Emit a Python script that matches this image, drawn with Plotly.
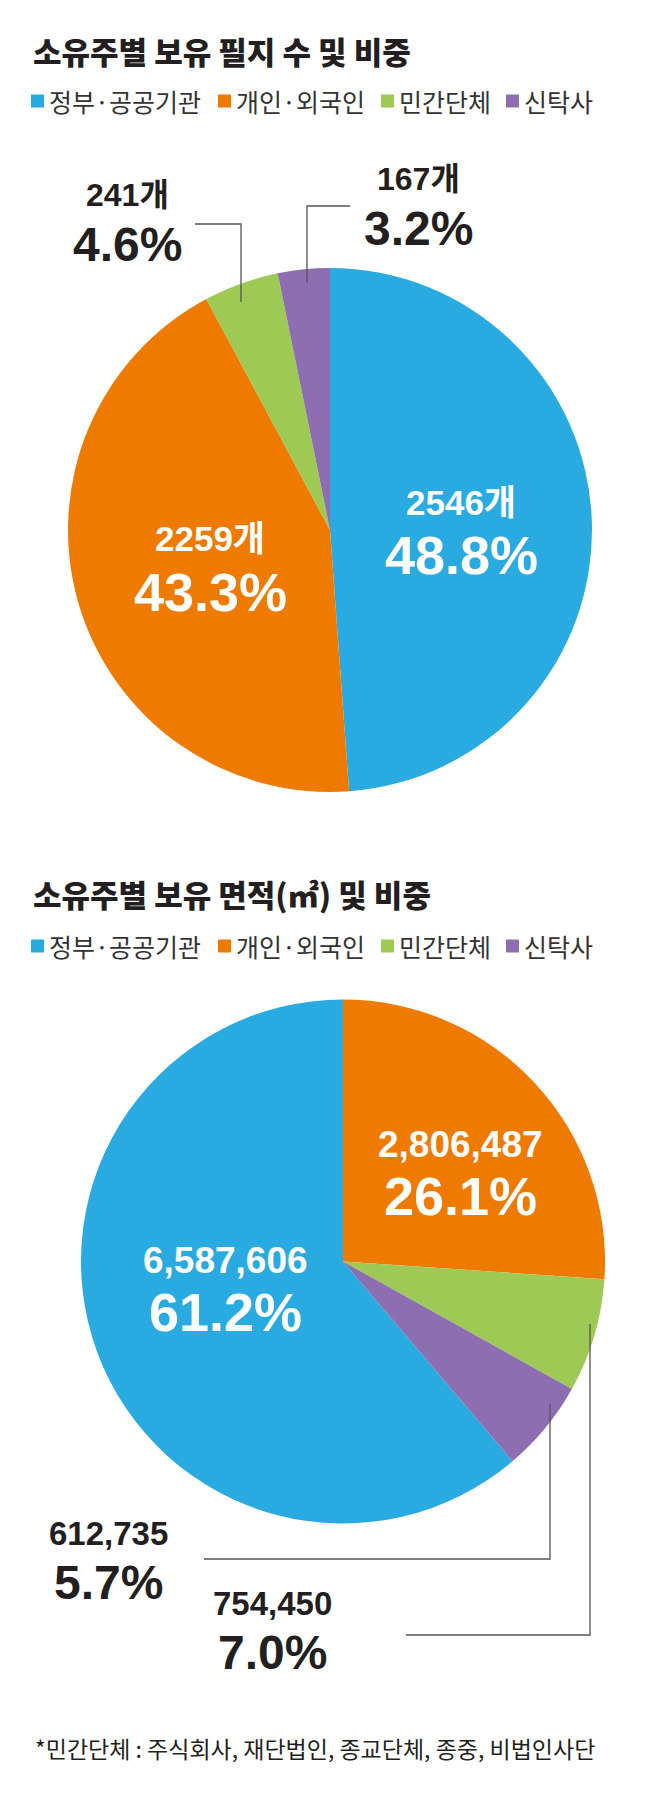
import plotly.graph_objects as go

# 데이터
owners = ['정부·공공기관', '개인·외국인', '민간단체', '신탁사']
colors = ['#29abe2', '#ef7a00', '#9fc955', '#8d6eb0']

parcels = [2546, 2259, 241, 167]            # 보유 필지 수(개)
areas = [6587606, 2806487, 754450, 612735]  # 보유 면적(㎡)

title1 = '소유주별 보유 필지 수 및 비중'
title2 = '소유주별 보유 면적(㎡) 및 비중'
note = '*민간단체 : 주식회사, 재단법인, 종교단체, 종중, 비법인사단'

# 레이아웃 (페이지 픽셀 기준, body 기본 여백 8px 보정)
PAGE_W, PAGE_H = 658, 1795
OFF = 8
W, H = PAGE_W - 2 * OFF, PAGE_H - 2 * OFF
PIE1 = (330, 530, 262)      # 중심 x, y, 반지름
PIE2 = (343, 1261.5, 262)
LEGEND_SQ_X = [31, 218, 381, 506]
LEGEND_TX_X = [47, 234, 397, 522]

LABEL_FONT = 'Liberation Sans, Arial, Noto Sans CJK KR, sans-serif'
KR_FONT = 'Noto Sans CJK KR, sans-serif'
INK = '#231f20'


def px(x, y):
    return (x - OFF) / W, 1 - (y - OFF) / H


def domain(c):
    cx, cy, r = c
    x0, y0 = px(cx - r, cy + r)
    x1, y1 = px(cx + r, cy - r)
    return dict(x=[x0, x1], y=[y0, y1])


fig = go.Figure()

# 첫 조각(정부·공공기관)이 12시 방향에서 끝나도록 두 번째 파이는 회전
rot2 = 360 * (1 - areas[0] / sum(areas))

fig.add_trace(go.Pie(labels=owners, values=parcels, sort=False, direction='clockwise',
                     rotation=0, marker=dict(colors=colors, line=dict(width=0)),
                     textinfo='none', showlegend=False, domain=domain(PIE1)))
fig.add_trace(go.Pie(labels=owners, values=areas, sort=False, direction='clockwise',
                     rotation=rot2, marker=dict(colors=colors, line=dict(width=0)),
                     textinfo='none', showlegend=False, domain=domain(PIE2)))

annots = []
shapes = []


def text(x, y, s, size, color=INK, family=LABEL_FONT, weight='bold', anchor='center'):
    ax, ay = px(x, y)
    annots.append(dict(x=ax, y=ay, xref='paper', yref='paper', text=s, showarrow=False,
                       xanchor=anchor, yanchor='middle',
                       font=dict(size=size, color=color, family=family, weight=weight)))


def pct(v, vals):
    return f'{v / sum(vals) * 100:.1f}%'


# 제목, 범례
for t, ty, ly in [(title1, 50, 101), (title2, 894, 946)]:
    text(31, ty, t, 31, family=KR_FONT, weight=900, anchor='left')
    for i, name in enumerate(owners):
        x0, y0 = px(LEGEND_SQ_X[i], ly + 6.5)
        x1, y1 = px(LEGEND_SQ_X[i] + 13, ly - 6.5)
        shapes.append(dict(type='rect', xref='paper', yref='paper', x0=x0, x1=x1, y0=y0, y1=y1,
                           fillcolor=colors[i], line=dict(width=0)))
        text(LEGEND_TX_X[i], ly, name, 25, color='#333333', family=KR_FONT, weight='normal', anchor='left')

# 필지 수 라벨
pos1 = [(461, 502, 555), (210, 538, 592), (127, 195, 244), (418, 179, 228)]
for i, (x, y1, y2) in enumerate(pos1):
    inside = i < 2
    c = 'white' if inside else INK
    text(x, y1, f'{parcels[i]}개', 35 if inside else 32, color=c)
    text(x, y2, pct(parcels[i], parcels), 54 if inside else 48, color=c)

# 면적 라벨
pos2 = [(225, 1260, 1312), (460, 1144, 1196), (272, 1603, 1652), (108, 1533, 1582)]
for i, (x, y1, y2) in enumerate(pos2):
    inside = i < 2
    c = 'white' if inside else INK
    text(x, y1, f'{areas[i]:,}', 37 if inside else 33, color=c)
    text(x, y2, pct(areas[i], areas), 54 if inside else 48, color=c)

# 지시선
leaders = [
    [(195, 224), (241, 224), (241, 302)],
    [(350, 206), (307, 206), (307, 283)],
    [(406, 1635), (590, 1635), (590, 1324)],
    [(204, 1559), (550, 1559), (550, 1404)],
]
for pts in leaders:
    p = [px(x, y) for x, y in pts]
    path = 'M ' + ' L '.join(f'{a:.5f},{b:.5f}' for a, b in p)
    shapes.append(dict(type='path', xref='paper', yref='paper', path=path,
                       line=dict(color='#555555', width=1.3)))

text(33, 1748, note, 23, family=KR_FONT, weight='normal', anchor='left')

fig.update_layout(width=W, height=H, margin=dict(l=0, r=0, t=0, b=0),
                  paper_bgcolor='white', plot_bgcolor='white',
                  annotations=annots, shapes=shapes)

fig.write_html('out.html')
